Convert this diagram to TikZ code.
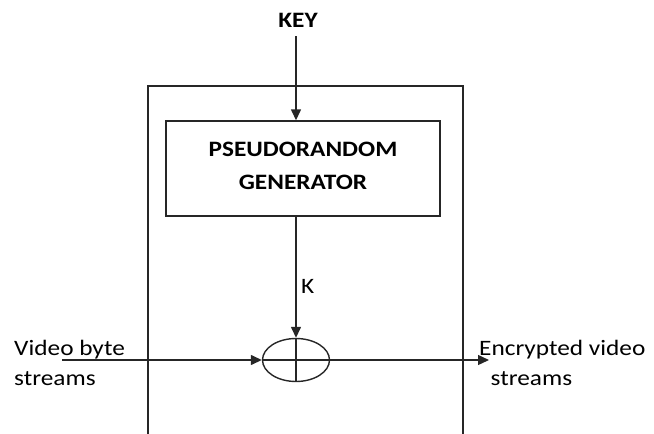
\documentclass[tikz,border=0pt]{standalone}
\usepackage{fontspec}
\setmainfont{Carlito}
\usetikzlibrary{arrows.meta,shapes.geometric}
\begin{document}
\begin{tikzpicture}[x=1pt,y=-1pt,
  line/.style={line width=1.4pt, draw=black!85},
  arr/.style={line, -{Triangle[length=11pt,width=10pt]}},
  lbl/.style={font=\fontsize{22}{30}\selectfont, inner sep=0pt, xscale=1.15, transform shape},
  bold/.style={lbl, font=\fontsize{22}{33}\selectfont\bfseries}]
\useasboundingbox (0,0) rectangle (654,434);
% outer enclosure (open at bottom)
\draw[line] (148,434) -- (148,86) -- (463,86) -- (463,434);
% nodes
\node[bold, anchor=base] (key) at (298,27) {KEY};
\node[line, draw, minimum width=274pt, minimum height=95pt] (prg) at (303,168.5) {};
\node[bold, align=center] (prgtxt) at (303,166) {PSEUDORANDOM\\GENERATOR};
\node[ellipse, line, draw, minimum width=67pt, minimum height=43pt, inner sep=0pt] (xor) at (296,360) {};
\node[lbl, anchor=base west] (klbl) at (301,293) {K};
\node[lbl, anchor=base west, align=left] (vin) at (14,385) {Video byte\\streams};
\node[lbl, anchor=base west, align=left] (vout) at (479,385) {Encrypted video\\\hspace*{10pt}streams};
\coordinate (in) at (62,360);
\coordinate (out) at (489,360);
% connectors
\draw[arr, shorten <=9pt] (key.south -| xor) -- (prg.north -| xor);
\draw[arr] (prg.south -| xor) -- (xor.north);
\draw[line] (xor.north) -- (xor.south);
\draw[line] (xor.west) -- (xor.east);
\draw[arr] (in) -- (xor.west);
\draw[arr] (xor.east) -- (out);
\end{tikzpicture}
\end{document}
